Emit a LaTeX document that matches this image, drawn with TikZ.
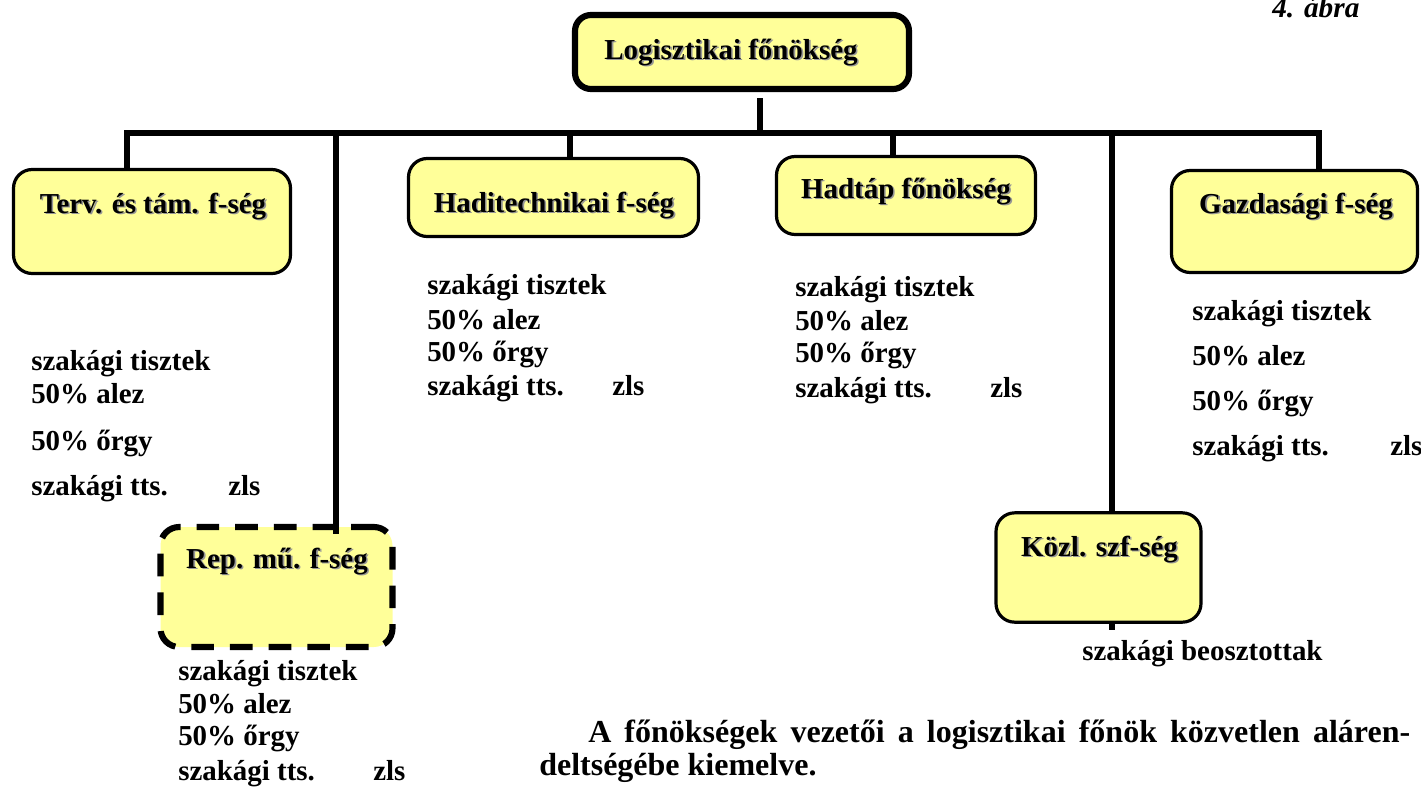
\documentclass[tikz,border=0pt]{standalone}
\usepackage{fontspec}
\setmainfont{Liberation Serif}
\definecolor{boxfill}{RGB}{255,255,153}
\definecolor{shadowgray}{RGB}{150,150,150}

\tikzset{
  unitbox/.style={draw=black, fill=boxfill, line width=2.4pt, rounded corners=14pt,
                  inner sep=0pt},
  chiefbox/.style={unitbox, line width=4.6pt, rounded corners=12pt},
  dashbox/.style={unitbox, line width=4.6pt, dash pattern=on 17pt off 12pt},
  conn/.style={draw=black, line width=5.2pt, line cap=butt, line join=miter},
  titletext/.style={inner sep=0pt, anchor=base,
                    font=\fontsize{21.7}{26}\selectfont\bfseries},
  titleshadow/.style={titletext, text=shadowgray},
  listtext/.style={inner sep=0pt, anchor=base west,
                   font=\fontsize{21.7}{26}\selectfont\bfseries},
  paratext/.style={inner sep=0pt, anchor=base west,
                   font=\fontsize{24}{26}\selectfont\bfseries},
}

% box title with a soft grey drop shadow: name, x, y, text
\newcommand\boxtitle[4]{%
  \node[titleshadow] (#1-sh) at ({#2+1.6},{#3+1.6}) {#4};
  \node[titletext] (#1) at (#2,#3) {#4};}

% staff list under a unit: name, x, four baselines, offset of "zls"
\newcommand\stafflist[7]{%
  \node[listtext] (#1-a) at (#2,#3) {szakági tisztek};
  \node[listtext] (#1-b) at (#2,#4) {50\% alez};
  \node[listtext] (#1-c) at (#2,#5) {50\% őrgy};
  \node[listtext] (#1-d) at (#2,#6) {szakági tts.};
  \node[listtext] (#1-e) at ({#2+#7},#6) {zls};}

\begin{document}
\begin{tikzpicture}[x=0.75pt, y=-0.75pt]
\useasboundingbox (0,0) rectangle (1421,786);

% figure number
\node[inner sep=0pt, anchor=base west,
      font=\fontsize{22}{26}\selectfont\bfseries\itshape] (fignum) at (1272,17) {4. ábra};

% bar coordinates
\coordinate (barL) at (127,133);
\coordinate (barR) at (1319,133);
\coordinate (bRep) at (336,133);
\coordinate (bHadi) at (570,133);
\coordinate (bHadtap) at (893,133);
\coordinate (bKozl) at (1112,133);
\coordinate (topstub) at (760,98);

% unit boxes
\node[chiefbox, minimum width=250.5pt, minimum height=55.5pt] (chief) at (742,52) {};
\node[unitbox, minimum width=207.75pt, minimum height=78pt] (terv) at (152,221.5) {};
\node[unitbox, minimum width=217.5pt, minimum height=58.5pt] (hadi) at (553.5,197.5) {};
\node[unitbox, minimum width=194.25pt, minimum height=58.5pt] (hadtap) at (906,195.5) {};
\node[unitbox, minimum width=184.5pt, minimum height=76.5pt] (gazd) at (1294.5,221.5) {};
\node[dashbox, minimum width=174pt, minimum height=90pt] (rep) at (276.5,587) {};
\node[unitbox, minimum width=153.75pt, minimum height=82pt] (kozl) at (1098.5,567.5) {};

% connectors
\draw[conn] (topstub) -- (topstub |- barL);
\draw[conn] (terv.north -| barL) -- (barL) -- (barR) -- (gazd.north -| barR);
\draw[conn] (bHadi) -- (bHadi |- hadi.north);
\draw[conn] (bHadtap) -- (bHadtap |- hadtap.north);
\draw[conn] (bKozl) -- (bKozl |- kozl.north);
\coordinate (kozlTail) at (1112,630);
\draw[conn] (kozl.south -| kozlTail) -- (kozlTail);
\coordinate (repJoin) at (336,534);
\draw[conn] (bRep) -- (repJoin);

% box titles
\boxtitle{chiefT}{731}{59}{Logisztikai főnökség}
\boxtitle{tervT}{153}{213}{Terv. és tám. f-ség}
\boxtitle{hadiT}{554}{212}{Haditechnikai f-ség}
\boxtitle{hadtapT}{906}{198}{Hadtáp főnökség}
\boxtitle{gazdT}{1296}{213}{Gazdasági f-ség}
\boxtitle{repT}{277}{568}{Rep. mű. f-ség}
\boxtitle{kozlT}{1099.5}{556}{Közl. szf-ség}

% staff lists
\stafflist{tervL}{31}{370}{403}{450}{495}{197}
\stafflist{repL}{178}{680}{713}{745}{780}{195}
\stafflist{hadiL}{427}{294}{329}{361}{395}{185}
\stafflist{hadtapL}{795}{296}{330}{362}{397}{195}
\stafflist{gazdL}{1192}{320}{365}{410}{455}{198}
\node[listtext] (kozlL) at (1082,660) {szakági beosztottak};

% closing remark
\node[paratext] (para1) at (588,742)
  {\makebox[616.5pt][s]{A főnökségek vezetői a logisztikai főnök közvetlen aláren-}};
\node[paratext] (para2) at (539,775) {deltségébe kiemelve.};
\end{tikzpicture}
\end{document}
